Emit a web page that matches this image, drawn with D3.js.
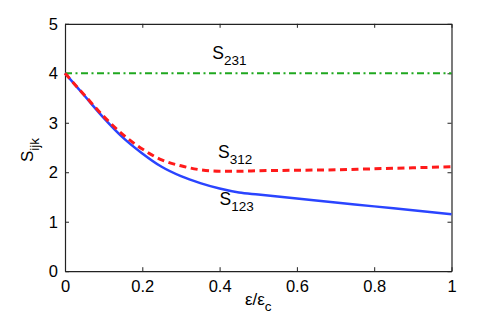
<!DOCTYPE html>
<html>
<head>
<meta charset="utf-8">
<script src="https://cdn.jsdelivr.net/npm/d3@7"></script>
<style>
  body { margin: 0; background: #fff; }
  svg { display: block; font-family: 'Liberation Sans', Arial, sans-serif; }
  .tick text { font-size: 16.5px; fill: #000; font-family: 'Liberation Sans', Arial, sans-serif; }
</style>
</head>
<body>
<div id="chart"></div>
<script>
// strain ratio eps/eps_c
var xs = [0, 0.05, 0.1, 0.15, 0.2, 0.25, 0.3, 0.35, 0.4, 0.45, 0.5, 0.6, 0.7, 0.8, 0.9, 1.0]
var s123 = [4.0, 3.55, 3.1, 2.7, 2.38, 2.11, 1.92, 1.78, 1.67, 1.59, 1.55, 1.47, 1.39, 1.31, 1.23, 1.15]
var s312 = [4.0, 3.56, 3.13, 2.76, 2.47, 2.25, 2.13, 2.05, 2.02, 2.02, 2.03, 2.04, 2.05, 2.07, 2.09, 2.11]
var s231 = [4, 4, 4, 4, 4, 4, 4, 4, 4, 4, 4, 4, 4, 4, 4, 4]
var xTicks = [0, 0.2, 0.4, 0.6, 0.8, 1]
var yTicks = [0, 1, 2, 3, 4, 5]

var W = 498, H = 317
var margin = { top: 23.8, right: 46.5, bottom: 45.8, left: 65 }
var width = W - margin.left - margin.right
var height = H - margin.top - margin.bottom

var svg = d3.select('#chart').append('svg')
  .attr('width', W)
  .attr('height', H)

var g = svg.append('g')
  .attr('transform', 'translate(' + margin.left + ',' + margin.top + ')')

var x = d3.scaleLinear().domain([0, 1]).range([0, width])
var y = d3.scaleLinear().domain([0, 5]).range([height, 0])

function fmt (d) { return d === 0 || d === 1 ? String(d) : d.toFixed(1) }

// axes with inward ticks, box on
g.append('g')
  .attr('transform', 'translate(0,' + height + ')')
  .call(d3.axisBottom(x).tickValues(xTicks).tickFormat(fmt).tickSizeInner(-4).tickSizeOuter(0).tickPadding(9))
g.append('g')
  .call(d3.axisLeft(y).tickValues(yTicks).tickFormat(d3.format('d')).tickSizeInner(-4).tickSizeOuter(0).tickPadding(7))
g.append('g')
  .call(d3.axisTop(x).tickValues(xTicks).tickFormat('').tickSizeInner(-4).tickSizeOuter(0))
g.append('g')
  .attr('transform', 'translate(' + width + ',0)')
  .call(d3.axisRight(y).tickValues(yTicks).tickFormat('').tickSizeInner(-4).tickSizeOuter(0))

g.selectAll('.domain').attr('stroke', '#222').attr('stroke-width', 1.2)
g.selectAll('.tick line').attr('stroke', '#222')

var line = d3.line()
  .x(function (d, i) { return x(xs[i]) })
  .y(function (d) { return y(d) })
  .curve(d3.curveMonotoneX)

g.append('path').datum(s231)
  .attr('d', line)
  .attr('fill', 'none')
  .attr('stroke', '#1fa81f')
  .attr('stroke-width', 2)
  .attr('stroke-dasharray', '7,3.5,2,3.5')

g.append('path').datum(s123)
  .attr('d', line)
  .attr('fill', 'none')
  .attr('stroke', '#2a44ff')
  .attr('stroke-width', 2.5)

g.append('path').datum(s312)
  .attr('d', line)
  .attr('fill', 'none')
  .attr('stroke', '#ff1a1a')
  .attr('stroke-width', 3)
  .attr('stroke-dasharray', '7,4.5')

// curve labels
function label (px, py, sub) {
  var t = g.append('text')
    .attr('x', x(px))
    .attr('y', y(py))
    .style('font-size', '17.5px')
  t.append('tspan').text('S')
  t.append('tspan').attr('dy', 6).style('font-size', '13.5px').text(sub)
}
label(0.381, 4.29, '231')
label(0.396, 2.28, '312')
label(0.400, 1.34, '123')

// axis labels
var xl = svg.append('text')
  .attr('x', margin.left + width / 2)
  .attr('y', 305)
  .attr('text-anchor', 'middle')
  .style('font-size', '17px')
xl.append('tspan').text('ε/ε')
xl.append('tspan').attr('dy', 6).style('font-size', '13.5px').text('c')

var yl = svg.append('text')
  .attr('transform', 'translate(33,150) rotate(-90)')
  .attr('text-anchor', 'middle')
  .style('font-size', '17px')
yl.append('tspan').text('S')
yl.append('tspan').attr('dy', 6).style('font-size', '13.5px').text('ijk')
</script>
</body>
</html>
